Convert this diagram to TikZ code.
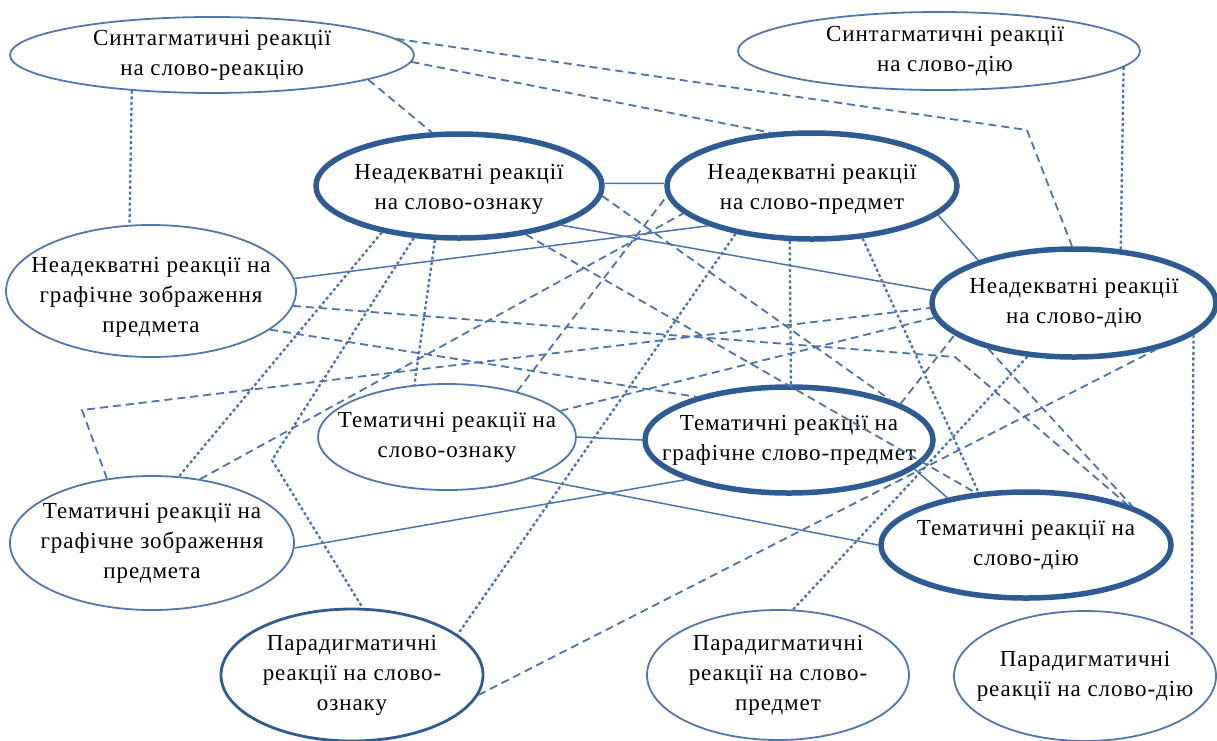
\documentclass[tikz,border=0pt]{standalone}
\usepackage{fontspec}
\setmainfont{Liberation Serif}
\usetikzlibrary{shapes.geometric}
\definecolor{rim}{HTML}{2F5B95}
\definecolor{rimthin}{HTML}{4F78B0}
\definecolor{link}{HTML}{4A74B0}
\tikzset{
  words/.style={align=center,inner sep=0pt,font=\fontsize{23}{30}\selectfont\addfontfeatures{LetterSpace=4}},
  bubble/.style={ellipse,draw=rimthin,line width=1.8pt,fill=white,inner sep=0pt},
  boldbubble/.style={bubble,draw=rim,line width=5.5pt},
  midbubble/.style={bubble,draw=rim,line width=2.8pt},
  tie/.style={draw=link,line width=1.5pt},
  dashtie/.style={draw=link,line width=1.8pt,dash pattern=on 8pt off 5pt},
  dottie/.style={draw=link,line width=2.3pt,dash pattern=on 3pt off 2.6pt}
}

\begin{document}
\begin{tikzpicture}[x=1pt,y=-1pt]
  \useasboundingbox (0,0) rectangle (1217,740);

  \node[bubble,minimum width=404pt,minimum height=76pt,label={[words]center:Синтагматичні реакції\\на слово-реакцію}] (synR) at (212,55) {};
  \node[bubble,minimum width=402pt,minimum height=78pt,label={[words,xshift=6pt]center:Синтагматичні реакції\\на слово-дію}] (synD) at (939,51) {};
  \node[boldbubble,minimum width=286pt,minimum height=104pt,label={[words,yshift=-3pt]center:Неадекватні реакції\\на слово-ознаку}] (neO) at (459,186) {};
  \node[boldbubble,minimum width=290pt,minimum height=106pt,label={[words,yshift=-3pt]center:Неадекватні реакції\\на слово-предмет}] (neP) at (812,186) {};
  \node[bubble,minimum width=290pt,minimum height=132pt,label={[words,yshift=-6pt]center:Неадекватні реакції на\\графічне зображення\\предмета}] (neG) at (151,291) {};
  \node[boldbubble,minimum width=284pt,minimum height=108pt,label={[words]center:Неадекватні реакції\\на слово-дію}] (neD) at (1074,303) {};
  \node[bubble,minimum width=258pt,minimum height=106pt,label={[words]center:Тематичні реакції на\\слово-ознаку}] (thO) at (447,437) {};
  \node[boldbubble,minimum width=288pt,minimum height=106pt,label={[words]center:Тематичні реакції на\\графічне слово-предмет}] (thG) at (789,440) {};
  \node[bubble,minimum width=284pt,minimum height=134pt,label={[words]center:Тематичні реакції на\\графічне зображення\\предмета}] (thZ) at (152,543) {};
  \node[boldbubble,minimum width=290pt,minimum height=106pt,label={[words]center:Тематичні реакції на\\слово-дію}] (thD) at (1026,545) {};
  \node[midbubble,minimum width=262pt,minimum height=132pt,label={[words]center:Парадигматичні\\реакції на слово-\\ознаку}] (parO) at (352,675) {};
  \node[bubble,minimum width=262pt,minimum height=130pt,label={[words]center:Парадигматичні\\реакції на слово-\\предмет}] (parP) at (778,675) {};
  \node[bubble,minimum width=262pt,minimum height=130pt,label={[words]center:Парадигматичні\\реакції на слово-дію}] (parD) at (1085,676) {};

  \coordinate (kR) at (1027,130);
  \coordinate (kO) at (272,460);
  \coordinate (kG) at (955,357);
  \coordinate (kZ) at (82,410);

  \draw[tie] (neO.1) -- (neP.179);
  \draw[tie] (neG.5) -- (neP.201);
  \draw[tie] (neO.-21) -- (neD.175);
  \draw[tie] (neP.-13) -- (neD.156);
  \draw[tie] (thO.0) -- (thG.180);
  \draw[tie] (thZ.-2) -- (thG.201);
  \draw[tie] (thO.-26) -- (thD.180);
  \draw[tie] (thG.-13) -- (thD.149);

  \draw[dottie] (synR.204) -- (neG.108);
  \draw[dottie] (synD.-5.4) -- (neD.49);
  \draw[dottie] (neD.-15) -- (parD.20);
  \draw[dottie] (neO.211) -- (thZ.68);
  \draw[dottie] (neO.229) -- (kO) -- (parO.81);
  \draw[dottie] (neO.246) -- (thO.122);
  \draw[dottie] (neP.248) -- (thG.88);
  \draw[dottie] (neP.212) -- (parO.21);
  \draw[dottie] (neP.-46) -- (thD.132);
  \draw[dottie] (parP.77) -- (neD.229);

  \draw[dashtie] (synR.-9) -- (neO.117);
  \draw[dashtie] (synR.-2) -- (neP.128);
  \draw[dashtie] (synR.5) -- (kR) -- (neD.92);
  \draw[dashtie] (neO.-36) -- (thD.134);
  \draw[dashtie] (neO.-4) -- (thG.22);
  \draw[dashtie] (neG.-6) -- (kG) -- (thD.22);
  \draw[dashtie] (neG.-18) -- (thG.155);
  \draw[dashtie] (thZ.125) -- (kZ) -- (neD.182);
  \draw[dashtie] (thZ.53) -- (neP.192);
  \draw[dashtie] (thO.33) -- (neP.184);
  \draw[dashtie] (thO.13) -- (neD.186);
  \draw[dashtie] (thG.18) -- (neD.195);
  \draw[dashtie] (neD.208) -- (thD.20);
  \draw[dashtie] (parO.-9) -- (neD.-30);
\end{tikzpicture}
\end{document}
